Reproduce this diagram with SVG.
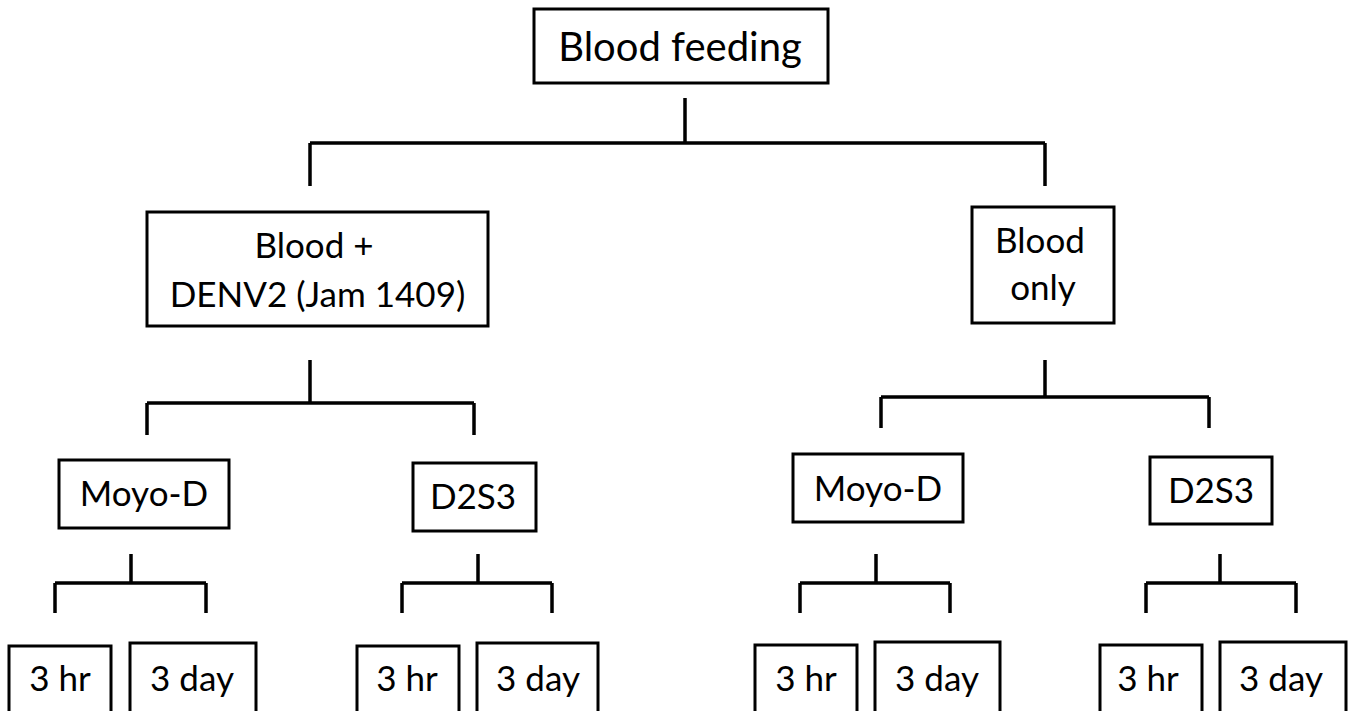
<svg xmlns="http://www.w3.org/2000/svg" width="1353" height="711" viewBox="0 0 1353 711">
<style>
.box{fill:#fff;stroke:#000;stroke-width:3}
.t{font-family:Lato,"Liberation Sans",sans-serif;font-size:35px;fill:#000;text-anchor:middle}
.big{font-size:40px}
.c{fill:none;stroke:#000;stroke-width:3.5}
</style>
<rect width="1353" height="711" fill="#fff"/>
<g id="connectors">
<path class="c" d="M685,98 V143 M310,143 H1045 M310,143 V186 M1045,143 V186"/>
<path class="c" d="M310,360 V403 M147,403 H474 M147,403 V435 M474,403 V435"/>
<path class="c" d="M1045,360 V397 M881,397 H1209 M881,397 V428 M1209,397 V428"/>
<path class="c" d="M131,554 V583 M55,583 H206 M55,583 V613 M206,583 V613"/>
<path class="c" d="M478,554 V583 M402,583 H552 M402,583 V613 M552,583 V613"/>
<path class="c" d="M876,554 V583 M800,583 H950 M800,583 V613 M950,583 V613"/>
<path class="c" d="M1220,554 V583 M1146,583 H1296 M1146,583 V613 M1296,583 V613"/>
</g>
<g id="n-blood-feeding"><rect class="box" x="534" y="9" width="294" height="74"/><text class="t big" x="680" y="61">Blood feeding</text></g>
<g id="n-blood-denv2"><rect class="box" x="147" y="212" width="341" height="114"/><text class="t" x="314" y="258">Blood +</text><text class="t" x="317.5" y="307">DENV2 (Jam 1409)</text></g>
<g id="n-blood-only"><rect class="box" x="972" y="207" width="142" height="116"/><text class="t" x="1040" y="253">Blood</text><text class="t" x="1043" y="300">only</text></g>
<g id="n-moyo-l"><rect class="box" x="59" y="460" width="170" height="68"/><text class="t" x="144" y="506">Moyo-D</text></g>
<g id="n-d2s3-l"><rect class="box" x="413" y="463" width="123" height="68"/><text class="t" x="473" y="509">D2S3</text></g>
<g id="n-moyo-r"><rect class="box" x="793" y="454" width="170" height="68"/><text class="t" x="878" y="501">Moyo-D</text></g>
<g id="n-d2s3-r"><rect class="box" x="1150" y="457" width="122" height="67"/><text class="t" x="1211" y="503">D2S3</text></g>
<g id="n-3hr-1"><rect class="box" x="9" y="646" width="102" height="70"/><text class="t" x="60" y="691">3 hr</text></g>
<g id="n-3day-1"><rect class="box" x="130" y="643" width="126" height="73"/><text class="t" x="192" y="691">3 day</text></g>
<g id="n-3hr-2"><rect class="box" x="357" y="646" width="102" height="70"/><text class="t" x="407" y="691">3 hr</text></g>
<g id="n-3day-2"><rect class="box" x="477" y="643" width="121" height="73"/><text class="t" x="538" y="691">3 day</text></g>
<g id="n-3hr-3"><rect class="box" x="755" y="645" width="102" height="71"/><text class="t" x="806" y="691">3 hr</text></g>
<g id="n-3day-3"><rect class="box" x="875" y="642" width="125" height="74"/><text class="t" x="937" y="691">3 day</text></g>
<g id="n-3hr-4"><rect class="box" x="1100" y="645" width="102" height="71"/><text class="t" x="1148" y="691">3 hr</text></g>
<g id="n-3day-4"><rect class="box" x="1220" y="642" width="126" height="74"/><text class="t" x="1281" y="691">3 day</text></g>
</svg>
